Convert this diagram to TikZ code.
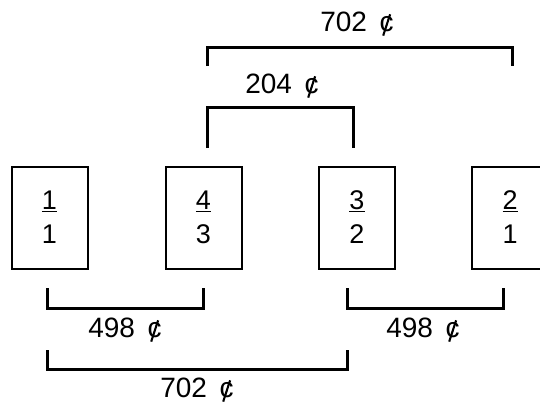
\documentclass[tikz,border=0pt]{standalone}
\usepackage{fontspec}
\usepackage{graphicx}
\setmainfont{Liberation Sans}
% cent sign: a "c" crossed by a slanted stroke
\newcommand{\centsign}{\ooalign{c\cr\hidewidth\raisebox{-0.13em}{\rotatebox{-18}{\rule{0.075em}{0.8em}}}\hidewidth}}
\begin{document}
\begin{tikzpicture}[x=1pt,y=-1pt,
  ratio/.style={draw,line width=2pt,minimum width=76pt,minimum height=102pt,
    inner sep=0pt,align=center,font=\fontsize{27}{34}\selectfont},
  bracket/.style={line width=3pt},
  cents/.style={font=\fontsize{28}{32}\selectfont,inner sep=0pt}]
\clip (0,0) rectangle (540,405);
\fill[white] (0,0) rectangle (540,405);

% ratio boxes
\node[ratio] (r1) at (49.5,217.5) {\underline{1}\\1};
\node[ratio] (r2) at (203.5,217.5) {\underline{4}\\3};
\node[ratio] (r3) at (357,217.5) {\underline{3}\\2};
\node[ratio] (r4) at (510,217.5) {\underline{2}\\1};

% bracket corners above
\coordinate (a1) at (207,66);  \coordinate (a2) at (512,66);
\coordinate (b1) at (207,148); \coordinate (b2) at (353,148);
% bracket corners below
\coordinate (c1) at (47,288);  \coordinate (c2) at (203,288);
\coordinate (d1) at (347,288); \coordinate (d2) at (503,288);
\coordinate (e1) at (47,350);  \coordinate (e2) at (347,350);

\draw[bracket] (a1) -- ++(0,-19) -| (a2);
\draw[bracket] (b1) -- ++(0,-41) -| (b2);
\draw[bracket] (c1) -- ++(0,20) -| (c2);
\draw[bracket] (d1) -- ++(0,20) -| (d2);
\draw[bracket] (e1) -- ++(0,19) -| (e2);

% interval sizes
\node[cents] (l1) at (357,24) {702\hspace{0.45em}\centsign};
\node[cents] (l2) at (282,86) {204\hspace{0.45em}\centsign};
\node[cents] (l3) at (125,330) {498\hspace{0.45em}\centsign};
\node[cents] (l4) at (423,330) {498\hspace{0.45em}\centsign};
\node[cents] (l5) at (197,390) {702\hspace{0.45em}\centsign};
\end{tikzpicture}
\end{document}
